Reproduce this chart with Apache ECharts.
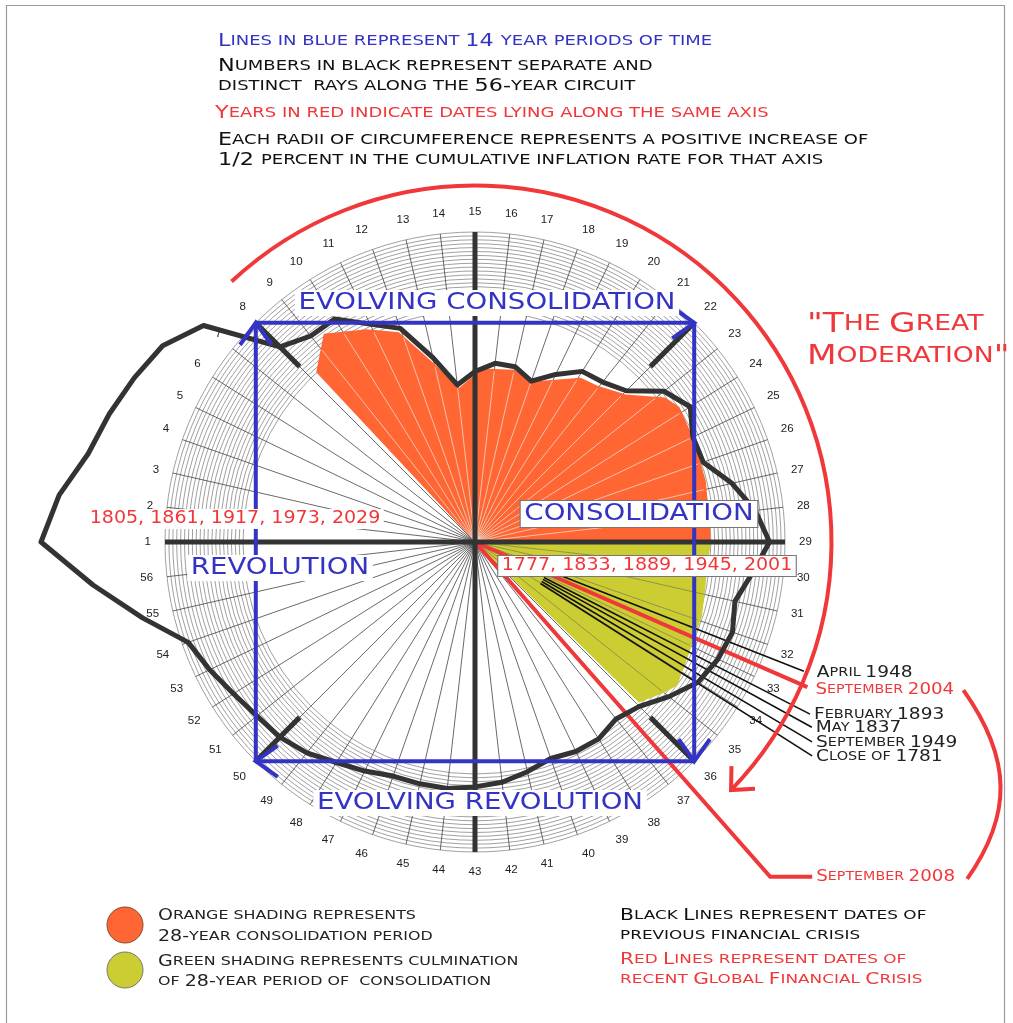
<!DOCTYPE html>
<html>
<head>
<meta charset="utf-8">
<title>56-year circuit</title>
<script src="https://cdn.jsdelivr.net/npm/echarts@6.0.0/dist/echarts.min.js"></script>
<style>
  html, body { margin: 0; padding: 0; background: #fff; }
  #chart { width: 1013px; height: 1023px; }
</style>
</head>
<body>
<div id="chart"></div>
<script>
var chart = echarts.init(document.getElementById('chart'));

/* ---------------- data ---------------- */
// rays numbered 1..56 clockwise from the left, 57 wraps back onto ray 1
var rayFirst = 1, rayWrap = 57;
var cardinalRays = [1, 15, 29, 43];
var diagonalRays = [8, 22, 36, 50];

// cumulative inflation along each ray (outer ring of the grid = 100)
var inflation = [140, 135, 128, 125, 122, 119, 112, 89, 85, 85, 78, 73, 61, 51,
                 55, 58, 58, 55, 60, 65, 66, 69, 78, 82, 78, 78, 85, 91,
                 95, 90, 86, 88, 87, 85, 80, 75, 73, 75, 75, 74, 76, 78,
                 79, 80, 80, 80, 82, 84, 87, 89, 90, 92, 95, 98, 110, 124];

// orange shading: 28-year consolidation period
var orangeRay = [8.3, 9.4, 10.8, 11.9, 13, 14.1, 15, 15.4, 17, 18.05, 20.1, 20.9, 22.1, 23.2, 23.8, 25.1, 26.7, 28.6, 29];
var orangeVal = [75, 83, 77, 72, 59, 50, 54, 56, 57, 55, 63, 64, 68, 77, 79, 78, 77, 76, 76];

// green shading: culmination of the consolidation period
var greenRay = [29, 31.8, 33.4, 34.5, 35, 35.9];
var greenVal = [76, 77, 78, 80, 78, 74];

// blue 14-year periods: corners of the square
var periodRays = [8, 22, 36, 50];
var periodRadius = 100;

// crisis dates
var blackCrisis = ['April 1948', 'February 1893', 'May 1837', 'September 1949', 'Close of 1781'];
var blackCrisisRay = [32.34, 33.23, 33.48, 33.77, 34.04];
var blackCrisisLen = [114, 121.5, 124, 126.4, 128.8];
var redCrisis = ['September 2004', 'September 2008'];
var redCrisisRay = [32.67, 36.56];
var redCrisisLen = [117, 144];

// "The Great Moderation" arc
var moderationRay = [8.3, 35.86];
var moderationLen = 115;

/* ---------------- styles ---------------- */
var BLUE = '#3434c4', RED = '#f0383a', ORANGE = '#ff6633', GREEN = '#cccc33', DARK = '#333';
var CENTER = [475, 542];
var blackLabelGap = [13, 4, 4, 4, 4];
function plain(size) { return size + 'px "DejaVu Sans"'; }

// copperplate-like small caps: lowercase letters become smaller capitals
function smallCaps(text) {
    var out = '', cur = null, buf = '';
    for (var i = 0; i < text.length; i++) {
        var ch = text.charAt(i);
        var t = (ch >= 'a' && ch <= 'z') ? 's' : (ch === ' ' ? (cur || 'b') : 'b');
        if (t !== cur && buf) { out += '{' + cur + '|' + buf + '}'; buf = ''; }
        cur = t;
        buf += ch.toUpperCase();
    }
    if (buf) out += '{' + cur + '|' + buf + '}';
    return out;
}
function scStyle(text, color, big, small) {
    return { text: smallCaps(text), fill: color, verticalAlign: 'middle', align: 'left',
             rich: { b: { font: plain(big), fill: color }, s: { font: plain(small), fill: color } } };
}

function interp(rays, vals, k) {
    for (var i = 1; i < rays.length; i++) {
        if (k <= rays[i]) {
            var t = (k - rays[i - 1]) / (rays[i] - rays[i - 1]);
            return vals[i - 1] + t * (vals[i] - vals[i - 1]);
        }
    }
    return vals[vals.length - 1];
}
function arrowHead(tip, from, len, spread) {
    var a = Math.atan2(from[1] - tip[1], from[0] - tip[0]);
    return [[tip[0] + len * Math.cos(a + spread), tip[1] + len * Math.sin(a + spread)], tip,
            [tip[0] + len * Math.cos(a - spread), tip[1] + len * Math.sin(a - spread)]];
}
function custom(z, render) {
    return { type: 'custom', coordinateSystem: 'polar', polarIndex: 0, clip: false, z: z,
             silent: true, data: [[0, rayFirst]], renderItem: render };
}

/* ---------------- series ---------------- */
var areaSeries = custom(2, function (params, api) {
    var c = api.coord([0, rayFirst]);
    var o = [c], g = [c];
    orangeRay.forEach(function (k, i) { o.push(api.coord([orangeVal[i], k])); });
    greenRay.forEach(function (k, i) { g.push(api.coord([greenVal[i], k])); });
    var kids = [
        { type: 'polygon', shape: { points: o }, style: { fill: ORANGE } },
        { type: 'polygon', shape: { points: g }, style: { fill: GREEN } }
    ];
    // grid rays showing through the shading
    for (var k = 9; k <= 28; k++) {
        var p = api.coord([interp(orangeRay, orangeVal, k) - 1, k]);
        kids.push({ type: 'line', shape: { x1: c[0], y1: c[1], x2: p[0], y2: p[1] },
                    style: { stroke: 'rgba(235,225,215,0.75)', lineWidth: 1 } });
    }
    for (var j = 30; j <= 35; j++) {
        var q = api.coord([interp(greenRay, greenVal, j) - 1, j]);
        kids.push({ type: 'line', shape: { x1: c[0], y1: c[1], x2: q[0], y2: q[1] },
                    style: { stroke: 'rgba(110,110,90,0.6)', lineWidth: 1 } });
    }
    return { type: 'group', children: kids };
});

var crisisSeries = custom(4, function (params, api) {
    var c = api.coord([0, rayFirst]);
    var kids = [];
    blackCrisis.forEach(function (name, i) {
        var s = api.coord([25, blackCrisisRay[i]]);
        var p = api.coord([blackCrisisLen[i], blackCrisisRay[i]]);
        kids.push({ type: 'line', shape: { x1: s[0], y1: s[1], x2: p[0], y2: p[1] },
                    style: { stroke: '#111', lineWidth: 1.6 } });
        kids.push({ type: 'text', x: p[0] + blackLabelGap[i], y: p[1] + 1, scaleX: 1.16,
                    style: scStyle(name, '#222', 16, 12.5) });
    });
    var p1 = api.coord([redCrisisLen[0], redCrisisRay[0]]);
    var p2 = api.coord([redCrisisLen[1], redCrisisRay[1]]);
    kids.push({ type: 'line', shape: { x1: c[0], y1: c[1], x2: p1[0], y2: p1[1] },
                style: { stroke: RED, lineWidth: 4 } });
    kids.push({ type: 'polyline', shape: { points: [c, p2, [p2[0] + 42, p2[1]]] },
                style: { stroke: RED, lineWidth: 4, fill: null } });
    kids.push({ type: 'text', x: p1[0] + 8, y: p1[1] + 3, scaleX: 1.14,
                style: scStyle(redCrisis[0], RED, 16, 12.5) });
    kids.push({ type: 'text', x: p2[0] + 46, y: p2[1], scaleX: 1.14,
                style: scStyle(redCrisis[1], RED, 16, 12.5) });
    // bracket joining the two recent crises
    kids.push({ type: 'bezierCurve',
                shape: { x1: p1[0] + 156, y1: p1[1] + 3, cpx1: p1[0] + 205, cpy1: p1[1] + 72,
                         cpx2: p2[0] + 242, cpy2: p2[1] - 62, x2: p2[0] + 197, y2: p2[1] + 2 },
                style: { stroke: RED, lineWidth: 4, fill: null } });
    return { type: 'group', children: kids };
});

var axesSeries = custom(6, function (params, api) {
    var kids = [];
    cardinalRays.forEach(function (k) {
        var a = api.coord([0, k]), b = api.coord([100, k]);
        kids.push({ type: 'line', shape: { x1: a[0], y1: a[1], x2: b[0], y2: b[1] },
                    style: { stroke: DARK, lineWidth: 5 } });
    });
    diagonalRays.forEach(function (k) {
        var a = api.coord([80, k]), b = api.coord([99, k]);
        kids.push({ type: 'line', shape: { x1: a[0], y1: a[1], x2: b[0], y2: b[1] },
                    style: { stroke: DARK, lineWidth: 5 } });
    });
    return { type: 'group', children: kids };
});

var arrowSeries = custom(8, function (params, api) {
    var kids = [];
    periodRays.forEach(function (k, i) {
        var tip = api.coord([periodRadius, k]);
        var from = api.coord([periodRadius, periodRays[(i + 3) % 4]]);
        kids.push({ type: 'polyline', shape: { points: arrowHead(tip, from, 27, 0.62) },
                    style: { stroke: BLUE, lineWidth: 4, fill: null } });
    });
    var c = api.coord([0, rayFirst]);
    var a = api.coord([moderationLen, moderationRay[0]]);
    var b = api.coord([moderationLen, moderationRay[1]]);
    var r = Math.sqrt((a[0] - c[0]) * (a[0] - c[0]) + (a[1] - c[1]) * (a[1] - c[1]));
    var sa = Math.atan2(a[1] - c[1], a[0] - c[0]), ea = Math.atan2(b[1] - c[1], b[0] - c[0]);
    kids.push({ type: 'arc', shape: { cx: c[0], cy: c[1], r: r, startAngle: sa, endAngle: ea, clockwise: true },
                style: { stroke: RED, lineWidth: 4, fill: null } });
    var back = [b[0] + Math.cos(ea - Math.PI / 2), b[1] + Math.sin(ea - Math.PI / 2)];
    kids.push({ type: 'polyline', shape: { points: arrowHead(b, back, 24, 0.75) },
                style: { stroke: RED, lineWidth: 4, fill: null } });
    return { type: 'group', children: kids };
});

var inflationData = inflation.map(function (v, i) { return [v, i + rayFirst]; });
inflationData.push([inflation[0], rayWrap]);
var squareData = periodRays.map(function (k) { return [periodRadius, k]; });
squareData.push([periodRadius, periodRays[0]]);

/* ---------------- text ---------------- */
function sc(text, x, y, color, big, small, sx) {
    return { type: 'text', x: x, y: y, scaleX: sx, z: 100, style: scStyle(text, color, big, small) };
}
function boxed(text, x, y, color, size, sx, border) {
    return { type: 'text', x: x, y: y, scaleX: sx, z: 100,
             style: { text: text, fill: color, font: plain(size), align: 'center', verticalAlign: 'middle',
                      backgroundColor: '#fff', padding: [2, 3, 1, 3],
                      borderColor: border ? '#777' : null, borderWidth: border ? 1 : 0 } };
}

var graphics = [
    { type: 'rect', z: 0, shape: { x: 6.5, y: 5.5, width: 998, height: 1030 },
      style: { fill: null, stroke: '#9a9a9a', lineWidth: 1.2 } },
    sc('Lines in blue represent 14 year periods of time', 218, 41, BLUE, 18, 14.5, 1.24),
    sc('Numbers in black represent separate and', 218, 66, '#111', 18, 14.5, 1.24),
    sc('distinct  rays along the 56-year circuit', 218, 86, '#111', 18, 14.5, 1.24),
    sc('Years in red indicate dates lying along the same axis', 215, 113, RED, 18, 14.5, 1.24),
    sc('Each radii of circumference represents a positive increase of', 218, 140, '#111', 18, 14.5, 1.24),
    sc('1/2 percent in the cumulative inflation rate for that axis', 218, 160, '#111', 18, 14.5, 1.24),

    sc('"The Great', 807, 325, RED, 27, 21, 1.27),
    sc('Moderation"', 807, 357, RED, 27, 21, 1.27),

    boxed('EVOLVING CONSOLIDATION', 487, 303, BLUE, 23, 1.2, false),
    boxed('EVOLVING REVOLUTION', 480, 803, BLUE, 23, 1.2, false),
    boxed('REVOLUTION', 280, 568, BLUE, 23, 1.2, false),
    boxed('CONSOLIDATION', 639, 514, BLUE, 23, 1.2, true),
    boxed('1805, 1861, 1917, 1973, 2029', 235, 519, RED, 17, 1.12, false),
    boxed('1777, 1833, 1889, 1945, 2001', 647, 566, RED, 17, 1.12, true),

    { type: 'circle', z: 100, shape: { cx: 125, cy: 925, r: 18 },
      style: { fill: ORANGE, stroke: '#8a4a30', lineWidth: 1 } },
    { type: 'circle', z: 100, shape: { cx: 125, cy: 970, r: 18 },
      style: { fill: GREEN, stroke: '#777', lineWidth: 1 } },
    sc('Orange shading represents', 158, 916, '#222', 15, 12.5, 1.27),
    sc('28-year consolidation period', 158, 937, '#222', 15, 12.5, 1.27),
    sc('Green shading represents culmination', 158, 962, '#222', 15, 12.5, 1.27),
    sc('of 28-year period of  consolidation', 158, 982, '#222', 15, 12.5, 1.27),
    sc('Black Lines represent dates of', 620, 916, '#111', 15, 12.5, 1.35),
    sc('previous financial crisis', 620, 936, '#111', 15, 12.5, 1.35),
    sc('Red Lines represent dates of', 620, 960, RED, 15, 12.5, 1.35),
    sc('recent Global Financial Crisis', 620, 980, RED, 15, 12.5, 1.35)
];

/* ---------------- option ---------------- */
var option = {
    backgroundColor: '#fff',
    animation: false,
    polar: [
        { center: CENTER, radius: 465 },
        { center: CENTER, radius: 310 },
        { center: CENTER, radius: [232, 310] }
    ],
    angleAxis: [
        { polarIndex: 0, type: 'value', min: rayFirst, max: rayWrap, startAngle: 180, clockwise: true, show: false },
        { polarIndex: 1, type: 'value', min: rayFirst, max: rayWrap, interval: 1, startAngle: 180, clockwise: true,
          axisLine: { show: false }, axisTick: { show: false },
          splitLine: { show: true, lineStyle: { color: '#444', width: 0.8 } },
          axisLabel: { margin: 14, color: '#222', fontSize: 11.5, fontFamily: 'Liberation Sans',
                       formatter: function (v) { return v >= rayWrap ? '' : String(v); } } },
        { polarIndex: 2, type: 'value', min: rayFirst, max: rayWrap, startAngle: 180, clockwise: true, show: false }
    ],
    radiusAxis: [
        { polarIndex: 0, min: 0, max: 150, show: false },
        { polarIndex: 1, min: 0, max: 100, show: false },
        { polarIndex: 2, min: 0, max: 20, interval: 1,
          axisLine: { show: false }, axisTick: { show: false }, axisLabel: { show: false },
          splitLine: { show: true, lineStyle: { color: '#777', width: 0.7 } } }
    ],
    graphic: graphics,
    series: [
        areaSeries,
        crisisSeries,
        { type: 'line', coordinateSystem: 'polar', polarIndex: 0, z: 5, data: inflationData,
          symbol: 'none', silent: true, clip: false,
          lineStyle: { color: DARK, width: 5, join: 'round', cap: 'round' } },
        axesSeries,
        { type: 'line', coordinateSystem: 'polar', polarIndex: 0, z: 7, data: squareData,
          symbol: 'none', silent: true, clip: false,
          lineStyle: { color: BLUE, width: 4 } },
        arrowSeries
    ]
};
chart.setOption(option);
</script>
</body>
</html>
